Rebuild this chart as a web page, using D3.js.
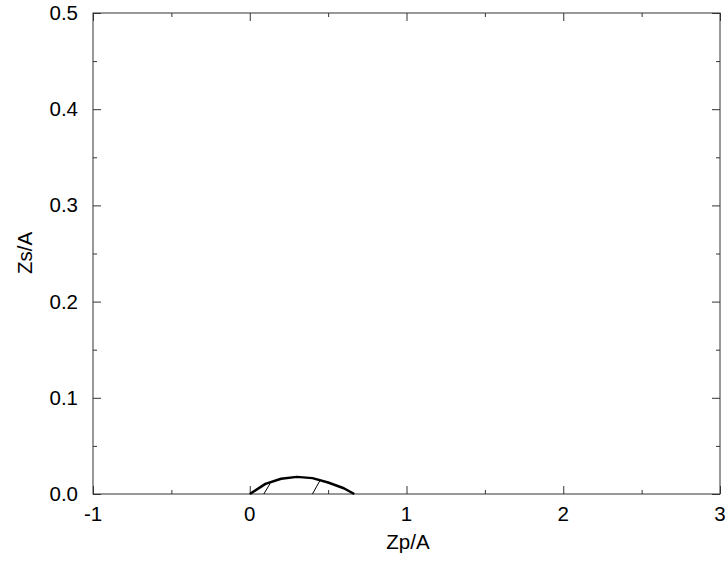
<!DOCTYPE html>
<html>
<head>
<meta charset="utf-8">
<script src="https://cdn.jsdelivr.net/npm/d3@7"></script>
<style>
html,body{margin:0;padding:0;background:#fff;}
text{font-family:"Liberation Sans",Arial,Helvetica,sans-serif;}
</style>
</head>
<body>
<svg id="chart" width="725" height="565"></svg>
<script>
// ---- data ----
const curveX = [0, 0.1, 0.2, 0.3, 0.4, 0.5, 0.6, 0.667];
const curveY = [0, 0.0105, 0.0158, 0.0178, 0.0165, 0.0120, 0.0060, 0];
const hatchX0 = [0.09, 0.40];
const hatchX1 = [0.13, 0.45];
const hatchY1 = [0.0110, 0.0146];
const xMajorTicks = [-1, 0, 1, 2, 3];
const xMinorTicks = [-0.5, 0.5, 1.5, 2.5];
const yMajorTicks = [0, 0.1, 0.2, 0.3, 0.4, 0.5];
const yMinorTicks = [0.05, 0.15, 0.25, 0.35, 0.45];
const xTickLabels = ["-1", "0", "1", "2", "3"];
const yTickLabels = ["0.0", "0.1", "0.2", "0.3", "0.4", "0.5"];
const xTitle = "Zp/A";
const yTitle = "Zs/A";

// ---- layout ----
const L = 93, R = 720, T = 13, B = 494;
const svg = d3.select("#chart");
svg.append("rect").attr("width", 725).attr("height", 565).attr("fill", "#fff");

const x = d3.scaleLinear().domain([-1, 3]).range([L, R]);
const y = d3.scaleLinear().domain([0, 0.5]).range([B, T]);

const axisColor = "#333";
const fs = 20.5;

// frame
svg.append("rect").attr("x", L).attr("y", T).attr("width", R - L).attr("height", B - T)
  .attr("fill", "none").attr("stroke", axisColor).attr("stroke-width", 1);

function addAxis(axisGen, transform, ticks, size) {
  const g = svg.append("g").attr("transform", transform)
    .call(axisGen.tickValues(ticks).tickSize(size).tickFormat(""));
  g.select(".domain").remove();
  g.selectAll(".tick line").attr("stroke", axisColor).attr("stroke-width", 1);
  return g;
}
// inward ticks on all four sides
addAxis(d3.axisBottom(x), `translate(0,${B})`, xMajorTicks, -8);
addAxis(d3.axisBottom(x), `translate(0,${B})`, xMinorTicks, -4);
addAxis(d3.axisTop(x), `translate(0,${T})`, xMajorTicks, -8);
addAxis(d3.axisTop(x), `translate(0,${T})`, xMinorTicks, -4);
addAxis(d3.axisLeft(y), `translate(${L},0)`, yMajorTicks, -8);
addAxis(d3.axisLeft(y), `translate(${L},0)`, yMinorTicks, -4);
addAxis(d3.axisRight(y), `translate(${R},0)`, yMajorTicks, -8);
addAxis(d3.axisRight(y), `translate(${R},0)`, yMinorTicks, -4);

// tick labels
svg.append("g").selectAll("text").data(xMajorTicks).join("text")
  .attr("x", d => x(d)).attr("y", B + 27)
  .attr("text-anchor", "middle").attr("font-size", fs).attr("fill", "#000")
  .text((d, i) => xTickLabels[i]);
svg.append("g").selectAll("text").data(yMajorTicks).join("text")
  .attr("x", L - 15).attr("y", d => y(d) + 7)
  .attr("text-anchor", "end").attr("font-size", fs).attr("fill", "#000")
  .text((d, i) => yTickLabels[i]);

// titles
svg.append("text").attr("x", 408).attr("y", 549)
  .attr("text-anchor", "middle").attr("font-size", fs).attr("fill", "#000").text(xTitle);
svg.append("text").attr("transform", `translate(32,253) rotate(-90)`)
  .attr("text-anchor", "middle").attr("font-size", fs).attr("fill", "#000").text(yTitle);

// hatch lines
svg.append("g").selectAll("line").data(hatchX0).join("line")
  .attr("x1", d => x(d)).attr("y1", y(0))
  .attr("x2", (d, i) => x(hatchX1[i])).attr("y2", (d, i) => y(hatchY1[i]))
  .attr("stroke", "#000").attr("stroke-width", 1);

// curve
const pts = curveX.map((d, i) => [d, curveY[i]]);
svg.append("path").datum(pts)
  .attr("d", d3.line().x(d => x(d[0])).y(d => y(d[1])))
  .attr("fill", "none").attr("stroke", "#000").attr("stroke-width", 2.5)
  .attr("stroke-linejoin", "round");
</script>
</body>
</html>
